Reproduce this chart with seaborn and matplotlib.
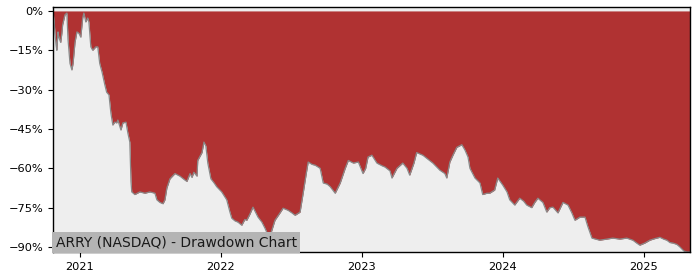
import matplotlib
matplotlib.use("Agg")
import matplotlib.pyplot as plt
import matplotlib.dates as mdates
from matplotlib.ticker import PercentFormatter
import numpy as np
import pandas as pd
import seaborn as sns

dates = [
    "2020-10-23", "2020-10-26", "2020-10-28", "2020-10-31", "2020-11-02", "2020-11-05", "2020-11-07",
    "2020-11-12", "2020-11-15", "2020-11-17", "2020-11-23", "2020-11-28", "2020-12-01", "2020-12-06",
    "2020-12-11", "2020-12-14", "2020-12-19", "2020-12-24", "2020-12-29", "2021-01-03", "2021-01-08",
    "2021-01-11", "2021-01-16", "2021-01-21", "2021-01-24", "2021-01-29", "2021-02-03", "2021-02-11",
    "2021-02-16", "2021-02-21", "2021-02-27", "2021-03-06", "2021-03-11", "2021-03-17", "2021-03-22",
    "2021-03-27", "2021-04-01", "2021-04-06", "2021-04-09", "2021-04-17", "2021-04-22", "2021-04-30",
    "2021-05-05", "2021-05-10", "2021-05-13", "2021-05-15", "2021-05-23", "2021-06-05", "2021-06-18",
    "2021-07-01", "2021-07-14", "2021-07-19", "2021-07-27", "2021-08-04", "2021-08-09", "2021-08-14",
    "2021-08-22", "2021-09-04", "2021-09-17", "2021-09-30", "2021-10-05", "2021-10-13", "2021-10-18",
    "2021-10-23", "2021-10-31", "2021-11-02", "2021-11-13", "2021-11-18", "2021-11-23", "2021-11-28",
    "2021-12-06", "2021-12-14", "2021-12-21", "2022-01-03", "2022-01-16", "2022-01-24", "2022-01-29",
    "2022-02-06", "2022-02-14", "2022-02-24", "2022-03-04", "2022-03-09", "2022-03-17", "2022-03-25",
    "2022-04-07", "2022-04-17", "2022-04-25", "2022-05-03", "2022-05-08", "2022-05-13", "2022-05-21",
    "2022-06-03", "2022-06-11", "2022-06-24", "2022-07-04", "2022-07-12", "2022-07-25", "2022-08-02",
    "2022-08-10", "2022-08-15", "2022-08-25", "2022-09-02", "2022-09-15", "2022-09-23", "2022-10-03",
    "2022-10-11", "2022-10-24", "2022-11-06", "2022-11-19", "2022-11-27", "2022-12-10", "2022-12-23",
    "2023-01-04", "2023-01-11", "2023-01-17", "2023-01-27", "2023-02-09", "2023-02-22", "2023-03-02",
    "2023-03-15", "2023-03-20", "2023-04-02", "2023-04-17", "2023-04-28", "2023-05-05", "2023-05-16",
    "2023-05-23", "2023-06-08", "2023-06-21", "2023-07-04", "2023-07-22", "2023-08-04", "2023-08-09",
    "2023-08-17", "2023-08-25", "2023-09-04", "2023-09-17", "2023-09-25", "2023-10-03", "2023-10-08",
    "2023-10-21", "2023-11-03", "2023-11-10", "2023-11-21", "2023-11-28", "2023-12-11", "2023-12-19",
    "2024-01-01", "2024-01-12", "2024-01-19", "2024-02-01", "2024-02-14", "2024-02-24", "2024-03-03",
    "2024-03-16", "2024-03-24", "2024-04-01", "2024-04-14", "2024-04-24", "2024-05-02", "2024-05-10",
    "2024-05-23", "2024-06-05", "2024-06-18", "2024-06-28", "2024-07-06", "2024-07-19", "2024-08-01",
    "2024-08-08", "2024-08-19", "2024-08-29", "2024-09-08", "2024-09-26", "2024-10-12", "2024-10-30",
    "2024-11-17", "2024-12-03", "2024-12-13", "2024-12-21", "2025-01-03", "2025-01-16", "2025-01-29",
    "2025-02-11", "2025-02-21", "2025-03-01", "2025-03-09", "2025-03-17", "2025-03-27", "2025-04-04",
    "2025-04-14", "2025-04-22", "2025-04-30",
]

drawdown_pct = [
    0.0, -4.0, -8.5, -13.0, -15.0, -8.0, -10.0,
    -12.0, -8.5, -5.3, -1.5, -0.8, -11.0, -20.0,
    -22.5, -20.0, -12.0, -8.0, -8.5, -10.0, -2.7,
    -0.8, -4.2, -2.7, -4.2, -13.7, -15.0, -13.7,
    -13.7, -20.0, -23.3, -28.0, -31.0, -32.0, -39.0,
    -43.5, -42.4, -42.7, -41.6, -45.4, -42.7, -42.4,
    -46.6, -50.0, -65.0, -69.0, -70.0, -69.0, -69.5,
    -69.0, -69.5, -72.0, -73.0, -73.5, -72.0, -67.5,
    -64.0, -62.0, -63.0, -64.5, -65.0, -62.0, -63.5,
    -61.5, -63.0, -57.0, -54.0, -50.0, -51.5, -58.0,
    -64.0, -65.5, -67.0, -69.0, -72.0, -76.5, -79.0,
    -80.0, -80.5, -81.7, -79.5, -79.8, -77.5, -74.8,
    -78.6, -80.5, -82.8, -85.5, -86.0, -83.6, -79.8,
    -77.0, -75.2, -76.0, -77.0, -77.9, -76.7, -69.5,
    -62.0, -57.6, -58.5, -58.8, -60.0, -65.6, -66.0,
    -67.0, -69.5, -65.6, -60.0, -57.0, -58.0, -57.6,
    -62.0, -60.0, -55.7, -55.0, -58.0, -59.0, -59.5,
    -61.0, -63.7, -60.0, -58.0, -60.0, -62.6, -58.0,
    -54.0, -55.0, -56.5, -58.0, -60.7, -62.0, -63.7,
    -57.6, -55.0, -52.0, -51.0, -53.0, -55.7, -60.0,
    -63.7, -65.6, -70.0, -69.5, -69.5, -68.3, -63.7,
    -66.4, -69.0, -72.0, -74.0, -71.4, -72.5, -74.0,
    -75.0, -73.0, -71.4, -73.0, -76.7, -75.0, -74.8,
    -77.0, -73.0, -74.0, -77.0, -79.8, -78.6, -78.6,
    -82.0, -86.6, -87.0, -87.4, -87.0, -86.6, -87.0,
    -86.6, -87.4, -88.5, -89.3, -88.5, -87.4, -86.8,
    -86.3, -87.0, -87.4, -88.3, -88.5, -89.0, -90.0,
    -91.5, -91.9, -91.9,
]

y_ticks = [0, -15, -30, -45, -60, -75, -90]
title_text = "ARRY (NASDAQ) - Drawdown Chart"

df = pd.DataFrame({"date": pd.to_datetime(dates), "dd": drawdown_pct})

sns.set_style("ticks")
fig = plt.figure(figsize=(7, 2.8), dpi=100)
ax = fig.add_axes([0.0757, 0.1, 0.91, 0.875])
ax.set_facecolor("#eeeeee")

ax.fill_between(df["date"], df["dd"], 0, color="#b03232", linewidth=0)
sns.lineplot(data=df, x="date", y="dd", ax=ax, color="#8a8a8a", linewidth=0.9)

ax.set_xlim(df["date"].iloc[0], df["date"].iloc[-1])
ax.set_ylim(-91.9, 1.5)
ax.set_yticks(y_ticks)
ax.yaxis.set_major_formatter(PercentFormatter(decimals=0))
ax.xaxis.set_major_locator(mdates.YearLocator())
ax.xaxis.set_major_formatter(mdates.DateFormatter("%Y"))
ax.set_xlabel("")
ax.set_ylabel("")
ax.tick_params(labelsize=8.2, length=3.5, width=0.8, colors="black")
for s in ax.spines.values():
    s.set_visible(True)
    s.set_color("black")
    s.set_linewidth(1.0)

ax.text(0.004, 0.04, title_text, transform=ax.transAxes, fontsize=10,
        ha="left", va="center", color="#1a1a1a",
        bbox=dict(facecolor="#b4b4b4", edgecolor="none", pad=2.5))

fig.savefig("out.png", dpi=100)
